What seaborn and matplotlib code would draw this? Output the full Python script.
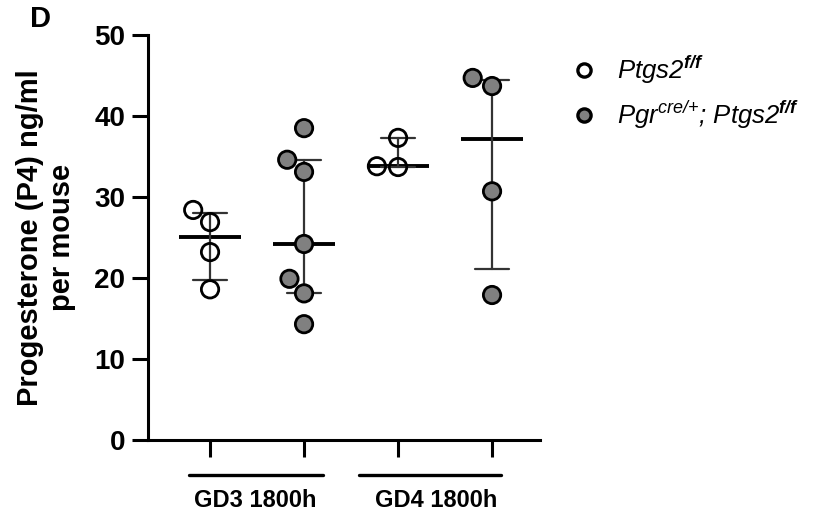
#!/usr/bin/env python3
"""
Progesterone (P4) levels per mouse, median with interquartile range.
"""
import numpy as np
import pandas as pd
import matplotlib
matplotlib.use("Agg")
import matplotlib.pyplot as plt
import matplotlib.transforms as mtransforms
from matplotlib.lines import Line2D
import seaborn as sns

# values (ng/ml)
days = ["GD3 1800h", "GD4 1800h"]
genotypes = ["Ptgs2 f/f", "Pgr cre/+; Ptgs2 f/f"]
gd3_ff = [26.9, 28.4, 23.2, 18.6]
gd3_cre = [38.5, 34.6, 33.1, 24.2, 19.9, 18.1, 14.3]
gd4_ff = [33.7, 33.8, 37.3]
gd4_cre = [43.7, 44.7, 30.7, 17.9]
y_ticks = [0, 10, 20, 30, 40, 50]


def iqr(values):
    """GraphPad-style quartiles."""
    return tuple(np.percentile(values, [25, 75], method="weibull"))


rows = []
for day, geno, vals in [
    (days[0], genotypes[0], gd3_ff),
    (days[0], genotypes[1], gd3_cre),
    (days[1], genotypes[0], gd4_ff),
    (days[1], genotypes[1], gd4_cre),
]:
    for v in vals:
        rows.append({"day": day, "genotype": geno, "cond": day + " " + geno, "p4": v})
df = pd.DataFrame(rows)
order = [d + " " + g for d in days for g in genotypes]

sns.set_style("ticks")
plt.rcParams["font.family"] = ["Liberation Sans", "DejaVu Sans"]
for key in ["text.color", "axes.labelcolor", "xtick.color", "ytick.color", "axes.edgecolor"]:
    plt.rcParams[key] = "black"
plt.rcParams["mathtext.fontset"] = "custom"
plt.rcParams["mathtext.rm"] = "Liberation Sans:italic"
plt.rcParams["mathtext.it"] = "Liberation Sans:italic"
plt.rcParams["mathtext.bf"] = "Liberation Sans:bold:italic"

fig = plt.figure(figsize=(8.14, 5.19), dpi=100)
ax = fig.add_axes([148 / 814, 1 - 440 / 519, 392 / 814, 405 / 519])

sns.pointplot(
    data=df, x="cond", y="p4", order=order,
    estimator=np.median, errorbar=iqr, capsize=0.36,
    color="black", marker="_", markersize=45, markeredgewidth=2.8,
    linestyle="none", err_kws={"linewidth": 1.6, "color": "#333333"},
    ax=ax,
)

sns.swarmplot(
    data=df, x="cond", y="p4", order=order,
    hue="genotype", hue_order=genotypes,
    palette={genotypes[0]: "white", genotypes[1]: "#808080"},
    size=12.5, edgecolor="black", linewidth=2,
    legend=False, zorder=3, ax=ax,
)

# open circles: let the lines show through
for coll in ax.collections:
    fc = coll.get_facecolors()
    if len(fc):
        white = np.all(fc[:, :3] > 0.99, axis=1)
        fc[white, 3] = 0
        coll.set_facecolors(fc)

ax.set_xlim(-0.66, 3.51)
ax.set_ylim(0, 50)
ax.set_yticks(y_ticks)
ax.set_yticklabels([str(t) for t in y_ticks], fontsize=20, fontweight="bold")
ax.set_xticklabels([])
ax.set_xlabel("")
ax.set_ylabel("Progesterone (P4) ng/ml\nper mouse", fontsize=21,
              fontweight="bold", labelpad=13)
sns.despine(ax=ax)
for side in ["left", "bottom"]:
    ax.spines[side].set_linewidth(2.2)
ax.tick_params(axis="y", width=2.2, length=11.5, pad=5)
ax.tick_params(axis="x", width=2.2, length=12)

# day brackets under the axis
trans = mtransforms.blended_transform_factory(ax.transData, ax.transAxes)
for (x0, x1), xc, label in zip([(-0.22, 1.2), (1.58, 3.1)], [0.48, 2.41], days):
    ax.plot([x0, x1], [-0.087, -0.087], color="black", lw=2.4,
            transform=trans, clip_on=False)
    ax.text(xc, -0.15, label, transform=trans,
            ha="center", va="center", fontsize=17, fontweight="bold")

handles = [
    Line2D([], [], marker="o", linestyle="none", markersize=9.5,
           markerfacecolor="white", markeredgecolor="black", markeredgewidth=2.4),
    Line2D([], [], marker="o", linestyle="none", markersize=9.5,
           markerfacecolor="#808080", markeredgecolor="black", markeredgewidth=2.4),
]
labels = [r"Ptgs2$^{\mathbf{f/f}}$",
          r"Pgr$^{\mathrm{cre/}{+}}$; Ptgs2$^{\mathbf{f/f}}$"]
fig.legend(handles, labels, loc="upper left",
           bbox_to_anchor=(571 / 814, 1 - 54 / 519),
           frameon=False, prop={"style": "italic", "size": 18.5},
           borderpad=0, borderaxespad=0, handlelength=1,
           handletextpad=0.78, labelspacing=0.5)

fig.text(41 / 814, 1 - 19 / 519, "D", fontsize=21, fontweight="bold",
         ha="center", va="center")

fig.savefig("out.png", dpi=100)
